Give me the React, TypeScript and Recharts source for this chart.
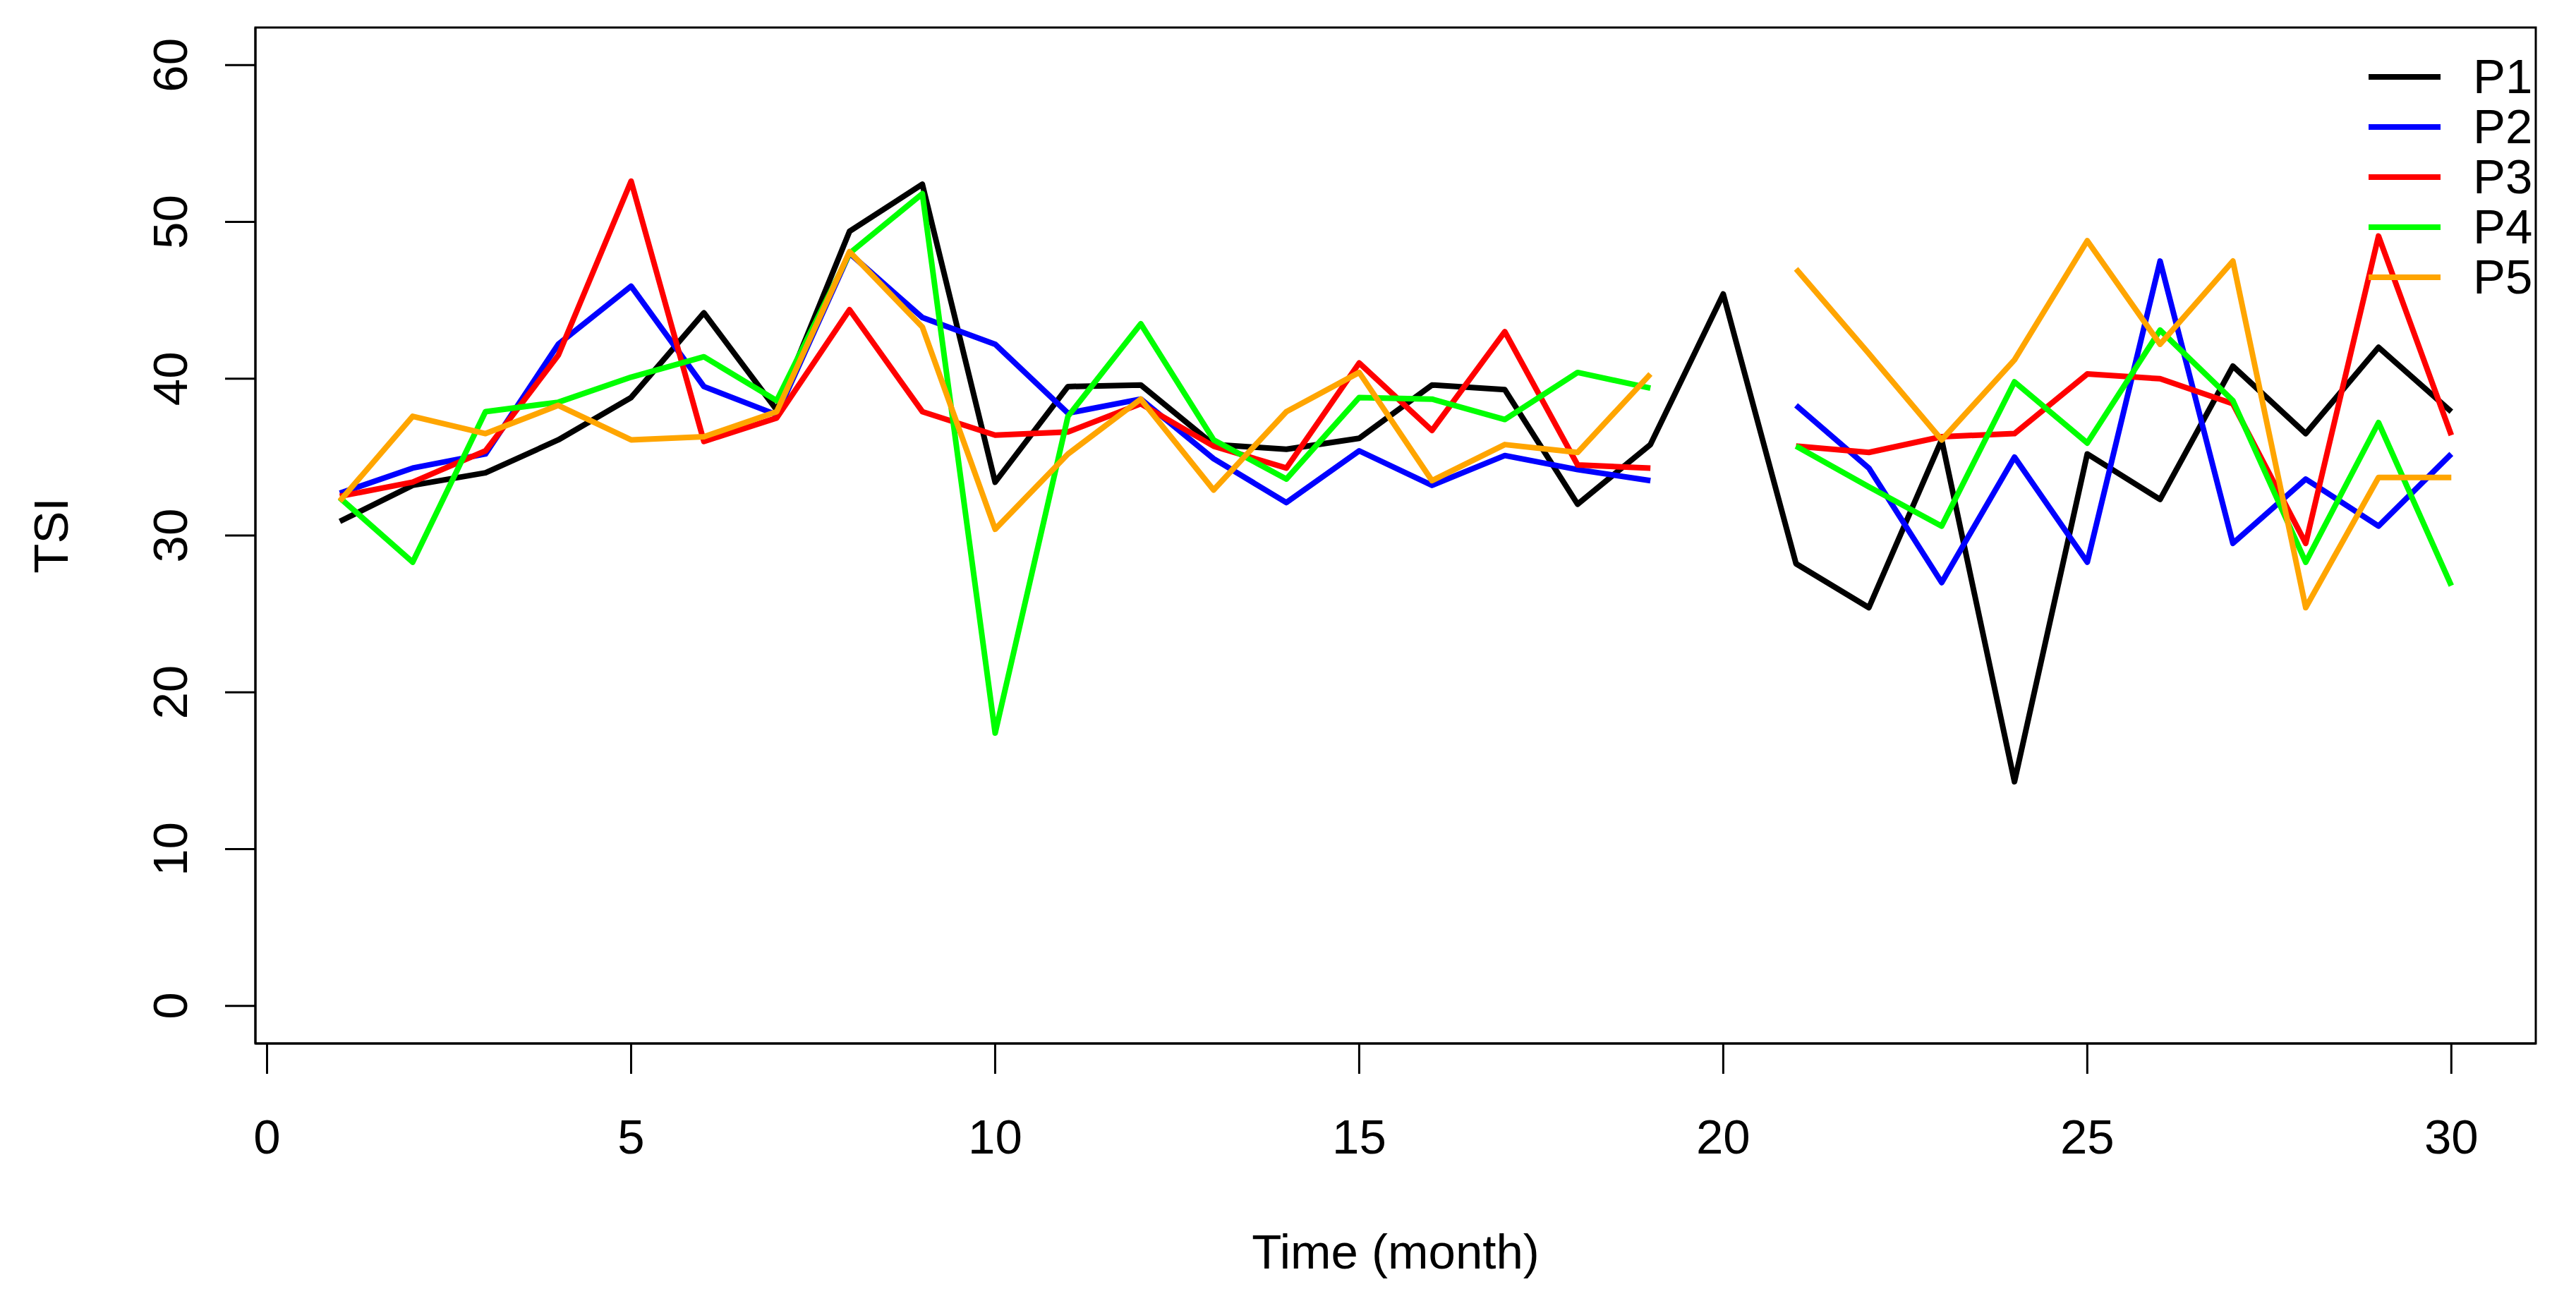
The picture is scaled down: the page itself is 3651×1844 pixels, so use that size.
import React from "react";
import { LineChart, Line, XAxis, YAxis, Legend, ReferenceArea } from "recharts";

// Monthly TSI readings for five sites; month 20 is missing for P2..P5
const months = [
  1, 2, 3, 4, 5, 6, 7, 8, 9, 10, 11, 12, 13, 14, 15,
  16, 17, 18, 19, 20, 21, 22, 23, 24, 25, 26, 27, 28, 29, 30,
];
const p1 = [
  30.9, 33.2, 34.0, 36.1, 38.8, 44.2, 38.0, 49.4, 52.4, 33.4, 39.5, 39.6, 35.8, 35.5, 36.2,
  39.6, 39.3, 32.0, 35.8, 45.4, 28.2, 25.4, 36.1, 14.3, 35.2, 32.3, 40.8, 36.5, 42.0, 37.9,
];
const p2 = [
  32.7, 34.3, 35.2, 42.2, 45.9, 39.5, 37.7, 48.0, 43.9, 42.2, 37.8, 38.7, 34.9, 32.1, 35.4,
  33.2, 35.1, 34.2, 33.5, null, 38.3, 34.3, 27.0, 35.0, 28.3, 47.5, 29.5, 33.6, 30.6, 35.2,
];
const p3 = [
  32.5, 33.4, 35.4, 41.5, 52.6, 36.0, 37.5, 44.4, 37.9, 36.4, 36.6, 38.4, 35.7, 34.3, 41.0,
  36.7, 43.0, 34.5, 34.3, null, 35.7, 35.3, 36.3, 36.5, 40.3, 40.0, 38.4, 29.5, 49.1, 36.4,
];
const p4 = [
  32.4, 28.3, 37.9, 38.5, 40.1, 41.4, 38.6, 48.0, 51.8, 17.4, 37.6, 43.5, 36.1, 33.6, 38.8,
  38.7, 37.4, 40.4, 39.4, null, 35.7, 33.1, 30.6, 39.8, 35.9, 43.1, 38.6, 28.3, 37.2, 26.8,
];
const p5 = [
  32.2, 37.6, 36.5, 38.3, 36.1, 36.3, 37.9, 48.1, 43.3, 30.4, 35.2, 38.7, 32.9, 37.9, 40.4,
  33.5, 35.8, 35.3, 40.3, null, 47.0, 41.6, 36.1, 41.2, 48.8, 42.2, 47.5, 25.4, 33.7, 33.7,
];

const xTicks = [0, 5, 10, 15, 20, 25, 30];
const yTicks = [0, 10, 20, 30, 40, 50, 60];

const series = [
  { key: "P1", color: "#000000" },
  { key: "P2", color: "#0000FF" },
  { key: "P3", color: "#FF0000" },
  { key: "P4", color: "#00FF00" },
  { key: "P5", color: "#FFA500" },
];

const data = months.map((m, i) => ({
  month: m,
  P1: p1[i],
  P2: p2[i],
  P3: p3[i],
  P4: p4[i],
  P5: p5[i],
}));

const FONT = "'Liberation Sans', Arial, sans-serif";
const FS = 69;
const LW = 8;
const axisStroke = { stroke: "#000", strokeWidth: 3 };

// R-style domains: data range padded by 4% on both sides
const xDomain = [-0.16, 31.16];
const yDomain = [-2.4, 62.4];

const XTick = (props: any) => {
  const { x, y, payload } = props;
  return (
    <text x={x} y={y + 113} textAnchor="middle" fontSize={FS} fontFamily={FONT} fill="#000">
      {payload.value}
    </text>
  );
};

const YTick = (props: any) => {
  const { x, y, payload } = props;
  const bx = x - 54;
  return (
    <text
      x={bx}
      y={y}
      transform={`rotate(-90 ${bx} ${y})`}
      textAnchor="middle"
      fontSize={FS}
      fontFamily={FONT}
      fill="#000"
    >
      {payload.value}
    </text>
  );
};

const XTitle = (props: any) => {
  const vb = props.viewBox || {};
  return (
    <text
      x={vb.x + vb.width / 2}
      y={vb.y + 319}
      textAnchor="middle"
      fontSize={FS}
      fontFamily={FONT}
      fill="#000"
    >
      Time (month)
    </text>
  );
};

const YTitle = (props: any) => {
  const vb = props.viewBox || {};
  const bx = vb.x - 66;
  const cy = vb.y + vb.height / 2;
  return (
    <text
      x={bx}
      y={cy}
      transform={`rotate(-90 ${bx} ${cy})`}
      textAnchor="middle"
      fontSize={FS}
      fontFamily={FONT}
      fill="#000"
    >
      TSI
    </text>
  );
};

const LegendBox = (props: any) => {
  const items = props.payload || [];
  return (
    <div style={{ fontFamily: FONT }}>
      {items.map((it: any) => (
        <div
          key={it.value}
          style={{ display: "flex", alignItems: "center", height: 71 }}
        >
          <svg width={102} height={10} style={{ display: "block" }}>
            <line x1={0} y1={5} x2={102} y2={5} stroke={it.color} strokeWidth={LW} />
          </svg>
          <span style={{ marginLeft: 46, fontSize: FS, lineHeight: "71px", color: "#000" }}>
            {it.value}
          </span>
        </div>
      ))}
    </div>
  );
};

export default function App() {
  return (
    <div style={{ position: "absolute", left: 0, top: 0, width: 3651, height: 1844, background: "#fff" }}>
      <LineChart
        width={3651}
        height={1844}
        data={data}
        margin={{ top: 39, right: 57, left: 162, bottom: 165 }}
      >
        <XAxis
          dataKey="month"
          type="number"
          domain={xDomain}
          ticks={xTicks}
          allowDataOverflow
          height={200}
          tickSize={43}
          tickMargin={0}
          tick={<XTick />}
          tickLine={axisStroke}
          axisLine={axisStroke}
          label={{ content: <XTitle /> }}
        />
        <YAxis
          type="number"
          domain={yDomain}
          ticks={yTicks}
          allowDataOverflow
          width={200}
          tickSize={43}
          tickMargin={0}
          tick={<YTick />}
          tickLine={axisStroke}
          axisLine={axisStroke}
          label={{ content: <YTitle /> }}
        />
        {/* plot frame, as R's box() */}
        <ReferenceArea
          x1={xDomain[0]}
          x2={xDomain[1]}
          y1={yDomain[0]}
          y2={yDomain[1]}
          fill="none"
          fillOpacity={0}
          stroke="#000"
          strokeWidth={3}
          ifOverflow="visible"
        />
        <Legend
          layout="vertical"
          align="center"
          verticalAlign="middle"
          content={<LegendBox />}
          wrapperStyle={{ left: 3357, top: 73, width: 260, height: 360 }}
        />
        {series.map((s) => (
          <Line
            key={s.key}
            type="linear"
            dataKey={s.key}
            name={s.key}
            stroke={s.color}
            strokeWidth={LW}
            strokeLinejoin="round"
            dot={false}
            activeDot={false}
            isAnimationActive={false}
          />
        ))}
      </LineChart>
    </div>
  );
}
